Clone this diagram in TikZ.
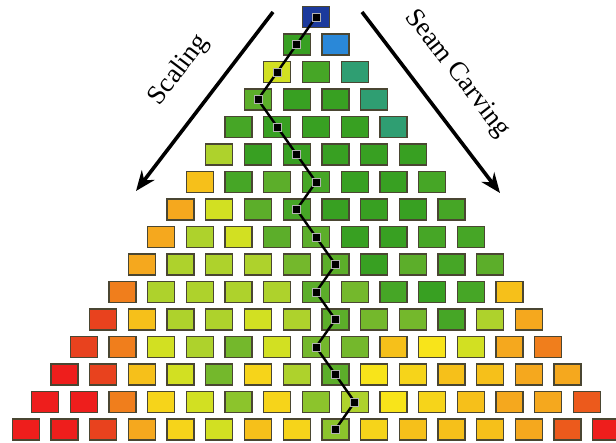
\documentclass[tikz,border=0pt]{standalone}
\usepackage{fontspec}
\setmainfont{Liberation Serif}
\usetikzlibrary{arrows.meta}

% palette of cell colours
\definecolor{navy}{HTML}{1C3A9C}
\definecolor{skyblue}{HTML}{2A88D8}
\definecolor{teal}{HTML}{2F9E72}
\definecolor{gdark}{HTML}{38A022}
\definecolor{gmid}{HTML}{46A626}
\definecolor{glight}{HTML}{5CAE2A}
\definecolor{gpale}{HTML}{74B82C}
\definecolor{gsoft}{HTML}{8CC42C}
\definecolor{yg}{HTML}{AED22C}
\definecolor{ylime}{HTML}{D2E022}
\definecolor{yel}{HTML}{F8E41A}
\definecolor{yelo}{HTML}{F6D41A}
\definecolor{amber}{HTML}{F6C01A}
\definecolor{orng}{HTML}{F5A81E}
\definecolor{orngdeep}{HTML}{F07E1C}
\definecolor{redor}{HTML}{EC5A1C}
\definecolor{redtwo}{HTML}{E8421E}
\definecolor{redone}{HTML}{EE1E1C}
\definecolor{cellrim}{HTML}{4A4632}

\tikzset{
  cell/.style={draw=cellrim, line width=1.3pt, minimum width=27pt, minimum height=21pt, inner sep=0pt},
  seamdot/.style={fill=black, draw=white!70!black, line width=0.6pt, minimum size=8pt, inner sep=0pt},
  seamline/.style={line width=2.4pt, black},
  bigarrow/.style={line width=3.6pt, black, -{Stealth[length=20pt,width=16pt]}},
  lbl/.style={font=\fontsize{27}{30}\selectfont, inner sep=0pt}
}

\begin{document}
\begin{tikzpicture}[x=1pt,y=-1pt]
\path[use as bounding box] (0,0) rectangle (616,442);

% pyramid of cells, one row per entry
\foreach \row [count=\r from 0] in {{navy},%
  {gdark,skyblue},%
  {ylime,gmid,teal},%
  {glight,gdark,gdark,teal},%
  {gmid,gdark,gdark,gdark,teal},%
  {yg,gdark,gdark,gdark,gdark,gdark},%
  {amber,gmid,glight,gmid,gdark,gdark,gmid},%
  {orng,ylime,glight,gmid,gdark,gdark,gdark,gmid},%
  {orng,yg,ylime,glight,glight,gdark,gdark,gmid,gmid},%
  {orng,yg,yg,yg,gpale,glight,gdark,glight,gmid,glight},%
  {orngdeep,yg,yg,yg,yg,glight,gpale,gmid,gdark,gmid,amber},%
  {redtwo,amber,yg,yg,ylime,yg,glight,gpale,gpale,gmid,yg,orng},%
  {redtwo,orngdeep,ylime,yg,gpale,ylime,gpale,gpale,amber,yel,ylime,orng,orngdeep},%
  {redone,redtwo,amber,ylime,gpale,yelo,yg,glight,yel,yelo,amber,amber,orng,orng},%
  {redone,redone,orngdeep,yelo,ylime,gsoft,yelo,gsoft,yg,yel,yelo,amber,orng,orng,redor},%
  {redone,redone,redtwo,orng,yelo,ylime,amber,yelo,gsoft,yelo,amber,amber,amber,orng,redor,redone}}{%
  \foreach \c [count=\i from 0] in \row {
    \node[cell, fill=\c] (s-\r-\i) at ({316+38.7*(\i-\r/2)}, {17+27.5*\r}) {};
  }
}

% the seam: one cell per row
\foreach \r/\i/\n/\j in {0/0/1/0, 1/0/2/0, 2/0/3/0, 3/0/4/1, 4/1/5/2, 5/2/6/3,
  6/3/7/3, 7/3/8/4, 8/4/9/5, 9/5/10/5, 10/5/11/6, 11/6/12/6, 12/6/13/7,
  13/7/14/8, 14/8/15/8}{
  \draw[seamline] (s-\r-\i.center) -- (s-\n-\j.center);
}
\foreach \r/\i in {0/0,1/0,2/0,3/0,4/1,5/2,6/3,7/3,8/4,9/5,10/5,11/6,12/6,13/7,14/8,15/8}{
  \node[seamdot] (d-\r) at (s-\r-\i.center) {};
}

% arrows with their labels
\coordinate (sc-from) at (273,12);
\coordinate (sc-to) at (136,191);
\coordinate (sv-from) at (362,12);
\coordinate (sv-to) at (500,193);
\draw[bigarrow] (sc-from) -- (sc-to);
\draw[bigarrow] (sv-from) -- (sv-to);
\node[lbl, rotate=53] (scaling) at (179,70) {Scaling};
\node[lbl, rotate=-52] (carving) at (457,74) {Seam Carving};
\end{tikzpicture}
\end{document}
